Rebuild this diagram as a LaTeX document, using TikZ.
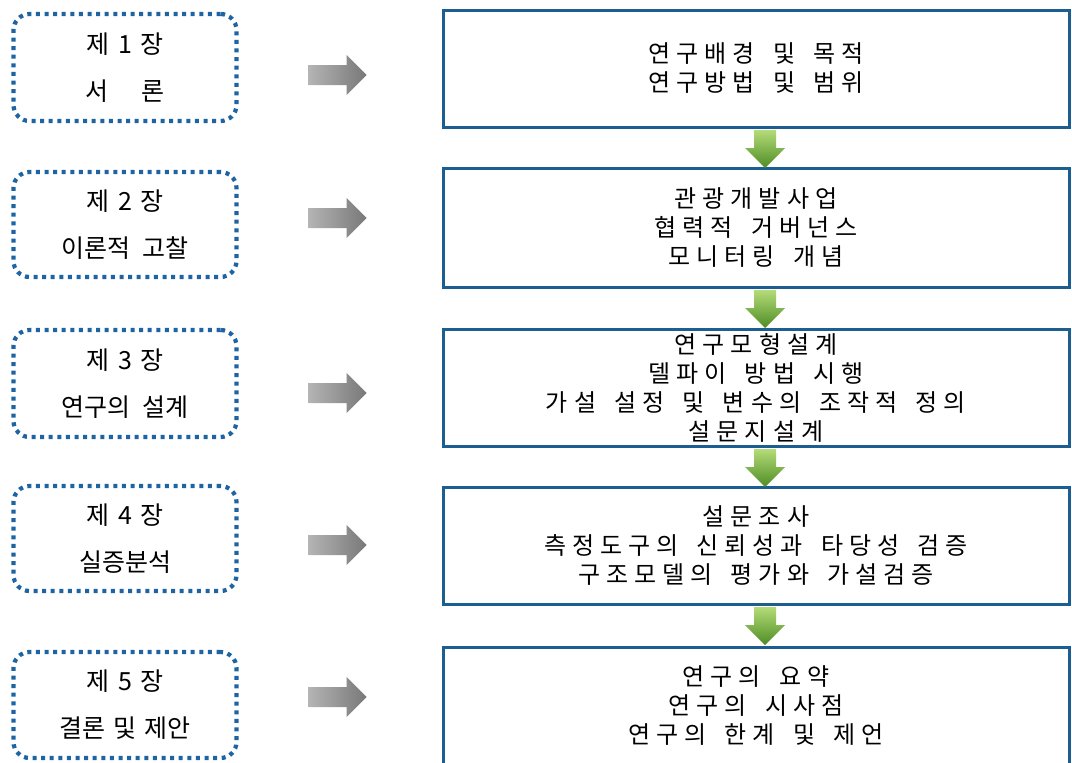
\documentclass[tikz,border=0pt]{standalone}
\usepackage{fontspec}
\newfontfamily\kofont{Noto Sans CJK KR}[WordSpace=1.5]
\newfontfamily\kowide{Noto Sans CJK KR}[LetterSpace=25,WordSpace=1.6]
\usetikzlibrary{calc}
\definecolor{dotblue}{HTML}{1E64A2}
\definecolor{boxblue}{HTML}{1D5E90}
\definecolor{greenlight}{HTML}{B4DC78}
\definecolor{greendark}{HTML}{4E8C24}
\definecolor{graylight}{HTML}{B4B4B4}
\definecolor{graydark}{HTML}{787878}
\tikzset{
  chapter/.style={draw=dotblue, line width=4.2pt, dash pattern=on 4pt off 4.6pt,
    rounded corners=16pt, minimum width=223pt, inner sep=0pt, align=center,
    font=\kofont\fontsize{25}{47}\selectfont},
  content/.style={draw=boxblue, line width=3pt, minimum width=626pt, inner sep=0pt,
    align=center, font=\kowide\fontsize{24}{29}\selectfont},
  grayarr/.pic={\path[left color=graylight, right color=graydark]
    (0,-10) -- (38,-10) -- (38,-20) -- (58,0) -- (38,20) -- (38,10) -- (0,10) -- cycle;},
  greenarr/.pic={\path[top color=greenlight, bottom color=greendark]
    (-11,0) -- (11,0) -- (11,18) -- (20,18) -- (0,38) -- (-20,18) -- (-11,18) -- cycle;}
}
\begin{document}
\begin{tikzpicture}[x=1pt,y=-1pt]
  \fill[white] (0,0) rectangle (1072,763);
  \useasboundingbox (0,0) rectangle (1072,763);

  % chapter boxes
  \node[chapter, minimum height=107pt] (l1) at (125,67.5) {제 1 장\\서\hspace{1.3em}론};
  \node[chapter, minimum height=105pt] (l2) at (125,224.5) {제 2 장\\이론적\hspace{0.5em}고찰};
  \node[chapter, minimum height=107pt] (l3) at (125,383.5) {제 3 장\\연구의\hspace{0.5em}설계};
  \node[chapter, minimum height=105pt] (l4) at (125,538.5) {제 4 장\\실증분석};
  \node[chapter, minimum height=106pt] (l5) at (125,705) {제 5 장\\결론 및 제안};

  % content boxes
  \node[content, minimum height=117pt] (r1) at (756,68.5)
    {연구배경 및 목적\\연구방법 및 범위};
  \node[content, minimum height=119pt] (r2) at (756,227.5)
    {관광개발사업\\협력적 거버넌스\\모니터링 개념};
  \node[content, minimum height=117pt] (r3) at (756,387.5)
    {연구모형설계\\델파이 방법 시행\\가설 설정 및 변수의 조작적 정의\\설문지설계};
  \node[content, minimum height=117pt] (r4) at (756,545.5)
    {설문조사\\측정도구의 신뢰성과 타당성 검증\\구조모델의 평가와 가설검증};
  \node[content, minimum height=118pt] (r5) at (756,706)
    {연구의 요약\\연구의 시사점\\연구의 한계 및 제언};

  % chapter-to-content arrows
  \pic at ($(l1.east)+(70,7.5)$) {grayarr};
  \pic at ($(l2.east)+(70,-6.5)$) {grayarr};
  \pic at ($(l3.east)+(70,9.5)$) {grayarr};
  \pic at ($(l4.east)+(70,6.5)$) {grayarr};
  \pic at ($(l5.east)+(70,-8)$) {grayarr};

  % flow arrows between content boxes
  \pic at ($(r1.south)+(9,1.5)$) {greenarr};
  \pic at ($(r2.south)+(9,1.5)$) {greenarr};
  \pic at ($(r3.south)+(9,1.5)$) {greenarr};
  \pic at ($(r4.south)+(9,1.5)$) {greenarr};
\end{tikzpicture}
\end{document}
